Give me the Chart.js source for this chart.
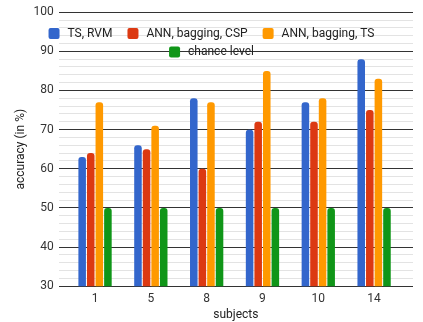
<!DOCTYPE html>
<html>
<head>
<meta charset="utf-8">
<script src="https://cdn.jsdelivr.net/npm/chart.js@4"></script>
<style>
  html, body { margin: 0; padding: 0; background: #fff; }
  #wrap { width: 423px; height: 322px; }
</style>
</head>
<body>
<div id="wrap"><canvas id="myChart"></canvas></div>
<script>
const ctx = document.getElementById('myChart');

const subjects = ['1', '5', '8', '9', '10', '14'];
const tsRvm = [63, 66, 78, 70, 77, 88];
const annCsp = [64, 65, 60, 72, 72, 75];
const annTs = [77, 71, 77, 85, 78, 83];
const chance = [50, 50, 50, 50, 50, 50];

const seriesNames = ['TS, RVM', 'ANN, bagging, CSP', 'ANN, bagging, TS', 'chance level'];
const seriesColors = ['#3366cc', '#dc3912', '#ff9900', '#109618'];

Chart.defaults.font.family = 'Roboto';
Chart.defaults.font.size = 12;
Chart.defaults.color = '#222';

// pull the categories in a bit so gridlines run past the outer bars
const insetX = {
  id: 'insetX',
  afterLayout(chart) {
    const x = chart.scales.x;
    x._startPixel = chart.chartArea.left + 8.5;
    x._endPixel = chart.chartArea.right - 11;
    x._length = x._endPixel - x._startPixel;
  }
};

// legend drawn over the plot, two centred rows
const overlayLegend = {
  id: 'overlayLegend',
  afterDraw(chart) {
    const c = chart.ctx;
    c.save();
    c.font = '12px Roboto';
    c.textBaseline = 'middle';
    const rows = [[0, 1, 2], [3]];
    rows.forEach((row, r) => {
      const sets = row.map(i => chart.data.datasets[i]);
      const widths = sets.map(ds => 19 + c.measureText(ds.label).width);
      const total = widths.reduce((a, b) => a + b, 0) + 15 * (sets.length - 1);
      let x = chart.width / 2 - total / 2;
      const y = 33.5 + r * 18.5;
      sets.forEach((ds, k) => {
        c.fillStyle = ds.backgroundColor;
        c.beginPath();
        c.roundRect(x, y - 5.5, 11, 11, 2);
        c.fill();
        c.fillStyle = '#222';
        c.fillText(ds.label, x + 19, y);
        x += widths[k] + 15;
      });
    });
    c.restore();
  }
};

const values = [tsRvm, annCsp, annTs, chance];

new Chart(ctx, {
  type: 'bar',
  data: {
    labels: subjects,
    datasets: values.map((v, i) => ({
      label: seriesNames[i],
      data: v,
      backgroundColor: seriesColors[i],
      borderRadius: 3,
      categoryPercentage: 0.615,
      barPercentage: 0.88,
    }))
  },
  options: {
    responsive: true,
    maintainAspectRatio: false,
    animation: false,
    layout: {
      padding: { top: 6, right: 10, left: 10, bottom: 0 }
    },
    scales: {
      y: {
        min: 30,
        max: 100,
        border: { display: false },
        grid: {
          drawTicks: false,
          color: c => (c.tick.value % 10 === 0 ? '#333' : '#e3e3e3'),
        },
        ticks: {
          stepSize: 2,
          autoSkip: false,
          padding: 5,
          color: '#333',
          callback: v => (v % 10 === 0 ? v : '')
        },
        title: {
          display: true,
          text: 'accuracy (in %)',
          color: '#222',
          padding: { top: 4, bottom: 0 }
        }
      },
      x: {
        border: { display: false },
        grid: { display: false, drawTicks: false },
        ticks: { padding: 6, color: '#333' },
        title: {
          display: true,
          text: 'subjects',
          color: '#222',
          padding: { top: -5, bottom: 0 }
        }
      }
    },
    plugins: {
      legend: { display: false },
      tooltip: { enabled: false }
    }
  },
  plugins: [insetX, overlayLegend]
});
</script>
</body>
</html>
